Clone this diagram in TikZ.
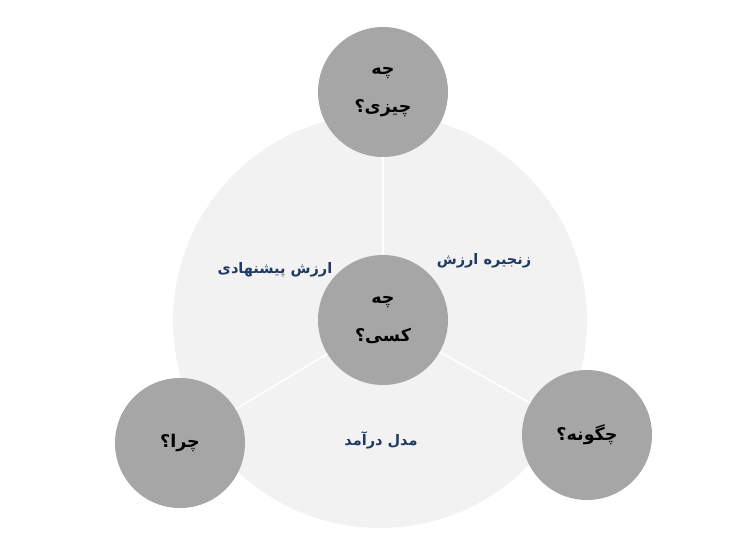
\documentclass[tikz,border=0pt]{standalone}
\usepackage{fontspec}
\usepackage{tikz}
\TeXXeTstate=1
\newfontfamily\farsifont[Script=Arabic]{DejaVu Sans}
\definecolor{bgGray}{HTML}{F2F2F2}
\definecolor{ballGray}{HTML}{A6A6A6}
\definecolor{labelBlue}{HTML}{1F3864}

\begin{document}
\begin{tikzpicture}[x=1pt, y=1pt,
    ball/.style={circle, fill=ballGray, minimum size=130pt, inner sep=0pt,
        align=center, font=\farsifont\bfseries\fontsize{17.5}{38}\selectfont},
    part/.style={text=labelBlue, font=\farsifont\bfseries\fontsize{14.5}{17}\selectfont}]
    \useasboundingbox (0,0) rectangle (734,-539);

    % 背景大圆
    \node[circle, fill=bgGray, minimum size=414pt, inner sep=0pt] (disk) at (380,-321) {};

    % 四个小圆
    \node[ball] (who) at (383,-320) {\beginR چه\endR\\\beginR کسی؟\endR};
    \node[ball] (what) at (383,-92) {\beginR چه\endR\\\beginR چیزی؟\endR};
    \node[ball] (why) at (180,-443) {\beginR چرا؟\endR};
    \node[ball] (how) at (587,-435) {\beginR چگونه؟\endR};

    % 分隔线
    \foreach \p in {what,why,how} \draw[white, line width=1.5pt] (who) -- (\p);

    % 标签
    \node[part] (offer) at (275,-270) {\beginR ارزش پیشنهادی\endR};
    \node[part] (chain) at (484,-261) {\beginR زنجیره ارزش\endR};
    \node[part] (income) at (381,-440) {\beginR مدل درآمد\endR};
\end{tikzpicture}
\end{document}
